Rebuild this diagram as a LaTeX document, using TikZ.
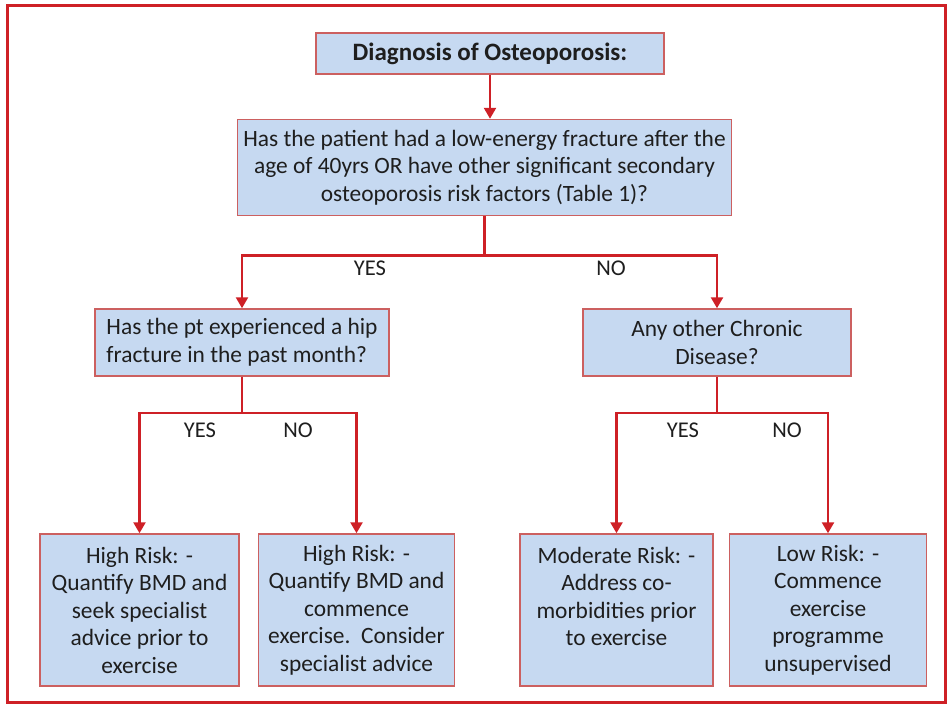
\documentclass[tikz,border=0pt]{standalone}
\usepackage{fontspec}
\setmainfont{Carlito}
\usetikzlibrary{arrows.meta,positioning}
\definecolor{boxblue}{RGB}{198,217,241}
\definecolor{boxred}{RGB}{204,96,96}
\definecolor{linered}{RGB}{206,32,38}
\definecolor{txtgray}{RGB}{30,30,30}
\tikzset{
    %Define standard arrow tip
    >={Triangle[length=11pt,width=12pt]},
    %Define style for boxes
    stepbox/.style={
           rectangle,
           draw=boxred, line width=1.5pt,
           fill=boxblue,
           inner xsep=6pt,
           font=\fontsize{23.4}{27.5}\selectfont,
           text=txtgray,
           align=center},
    % Define style for the answers
    answer/.style={
           font=\fontsize{22.5}{27.5}\selectfont,
           text=txtgray},
    % Define arrow style
    pil/.style={
           ->,
           draw=linered,
           line width=2.5pt},
    frame/.style={
           draw=linered,
           line width=3pt}
}
\begin{document}
\begin{tikzpicture}[x=1pt,y=1pt]
\useasboundingbox (0,0) rectangle (951,-705);
\draw[frame] (7,-5) rectangle (945,-702);
 %nodes
\node[stepbox, minimum width=348pt, minimum height=41pt,
  font=\fontsize{25}{27.5}\selectfont\bfseries] (diag) at (490,-53.5) {Diagnosis of Osteoporosis:};
\node[stepbox, minimum width=493pt, minimum height=96pt, below=44pt of diag, xshift=-5.5pt] (fract)
  {Has the patient had a low-energy fracture after the\\ age of 40yrs OR have other significant secondary\\ osteoporosis risk factors (Table 1)?};
\node[stepbox, align=left, minimum width=294pt, minimum height=67pt] (hip) at (242,-342.5)
  {Has the pt experienced a hip\\ fracture in the past month?};
\node[stepbox, minimum width=268pt, minimum height=67pt] (chronic) at (717,-342.5)
  {Any other Chronic\\ Disease?};
\node[stepbox, minimum width=199pt, minimum height=152pt] (highA) at (139.5,-610)
  {High Risk: -\\ Quantify BMD and\\ seek specialist\\ advice prior to\\ exercise};
\node[stepbox, minimum width=196pt, minimum height=152pt, right=18pt of highA] (highB)
  {High Risk: -\\ Quantify BMD and\\ commence\\ exercise.\ \ Consider\\ specialist advice};
\node[stepbox, minimum width=193pt, minimum height=152pt] (moder) at (616.5,-610)
  {Moderate Risk: -\\ Address co-\\ morbidities prior\\ to exercise\\ \mbox{}};
\node[stepbox, minimum width=197pt, minimum height=152pt, right=15pt of moder] (lowr)
  {Low Risk: -\\ Commence\\ exercise\\ programme\\ unsupervised};
 %answers
\node[answer] (yesA) at (370,-268) {YES};
\node[answer] (noA) at (611,-268) {NO};
\node[answer] (yesB) at (200,-430) {YES};
\node[answer] (noB) at (298,-430) {NO};
\node[answer] (yesC) at (683,-430) {YES};
\node[answer] (noC) at (787,-430) {NO};
 %connectors
\draw[pil] (diag.south) -- (diag.south |- fract.north);
\draw[pil] (fract.south) -- ++(0,-39) -| (hip.north);
\draw[pil] (fract.south) -- ++(0,-39) -| (chronic.north);
\draw[pil] (hip.south) -- ++(0,-36) -| (highA.north);
\draw[pil] (hip.south) -- ++(0,-36) -| (highB.north);
\draw[pil] (chronic.south) -- ++(0,-36) -| (moder.north);
\draw[pil] (chronic.south) -- ++(0,-36) -| (lowr.north);
\end{tikzpicture}
\end{document}
